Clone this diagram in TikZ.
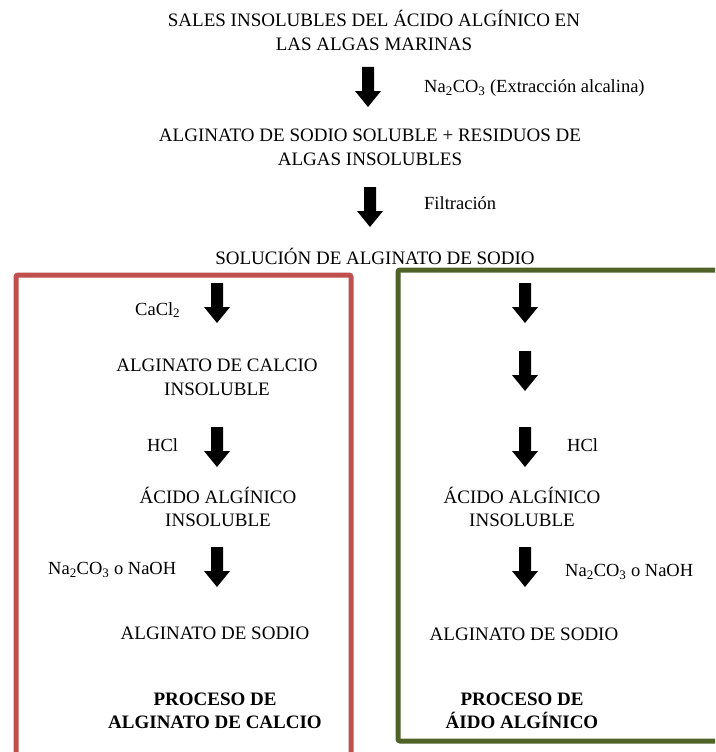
\documentclass[tikz,border=0pt]{standalone}
\usepackage{fontspec}
\setmainfont{Liberation Serif}
\definecolor{boxred}{HTML}{C0504D}
\definecolor{boxgreen}{HTML}{4F6228}
\newcommand{\blockarrow}[3]{%
  \coordinate (#1) at (#2,#3);
  \begin{scope}[shift={(#1)}]
    \fill[black] (-6,0) -- (-6,24) -- (-13,24) -- (0,40) -- (13,24) -- (6,24) -- (6,0) -- cycle;
  \end{scope}}
\begin{document}
\begin{tikzpicture}[x=1pt,y=-1pt,
  txt/.style={inner sep=0, align=center, font=\fontsize{19}{23.5}\selectfont},
  btxt/.style={txt, font=\fontsize{19}{23.5}\selectfont\bfseries},
  lbl/.style={inner sep=0, anchor=west, font=\fontsize{18.5}{22}\selectfont},
  procbox/.style={line width=5pt, rounded corners=2pt}]
\useasboundingbox (0,0) rectangle (715,752);
\begin{scope}
\clip (0,0) rectangle (715,752);
\draw[procbox, draw=boxred] (16,275) rectangle (351,770);
\draw[procbox, draw=boxgreen] (398,270) rectangle (730,741);
\end{scope}

\node[txt] (t1) at (374,30.5) {SALES INSOLUBLES DEL ÁCIDO ALGÍNICO EN\\LAS ALGAS MARINAS};
\blockarrow{a1}{368}{67}
\node[lbl] (l1) at (424,88) {Na\textsubscript{2}CO\textsubscript{3} (Extracción alcalina)};
\node[txt] (t2) at (370,147.5) {ALGINATO DE SODIO SOLUBLE + RESIDUOS DE\\ALGAS INSOLUBLES};
\blockarrow{a2}{370}{187}
\node[lbl] (l2) at (424,203) {Filtración};
\node[txt] (t3) at (375,256) {SOLUCIÓN DE ALGINATO DE SODIO};

% left branch
\blockarrow{a3}{217}{283}
\node[lbl] (l3) at (135,310) {CaCl\textsubscript{2}};
\node[txt] (t4) at (217,377.5) {ALGINATO DE CALCIO\\INSOLUBLE};
\blockarrow{a4}{217}{427}
\node[lbl] (l4) at (147,445) {HCl};
\node[txt] (t5) at (218,507) {ÁCIDO ALGÍNICO\\INSOLUBLE};
\blockarrow{a5}{217}{547}
\node[lbl] (l5) at (48,570) {Na\textsubscript{2}CO\textsubscript{3} o NaOH};
\node[txt] (t6) at (215,633) {ALGINATO DE SODIO};
\node[btxt] (t7) at (215,711) {PROCESO DE\\ALGINATO DE CALCIO};

% right branch
\blockarrow{a6}{525}{283}
\blockarrow{a7}{525}{351}
\blockarrow{a8}{525}{427}
\node[lbl] (l6) at (567,445) {HCl};
\node[txt] (t8) at (522,507) {ÁCIDO ALGÍNICO\\INSOLUBLE};
\blockarrow{a9}{525}{547}
\node[lbl] (l7) at (565,572) {Na\textsubscript{2}CO\textsubscript{3} o NaOH};
\node[txt] (t9) at (524,634) {ALGINATO DE SODIO};
\node[btxt] (t10) at (522,711) {PROCESO DE\\ÁIDO ALGÍNICO};
\end{tikzpicture}
\end{document}
